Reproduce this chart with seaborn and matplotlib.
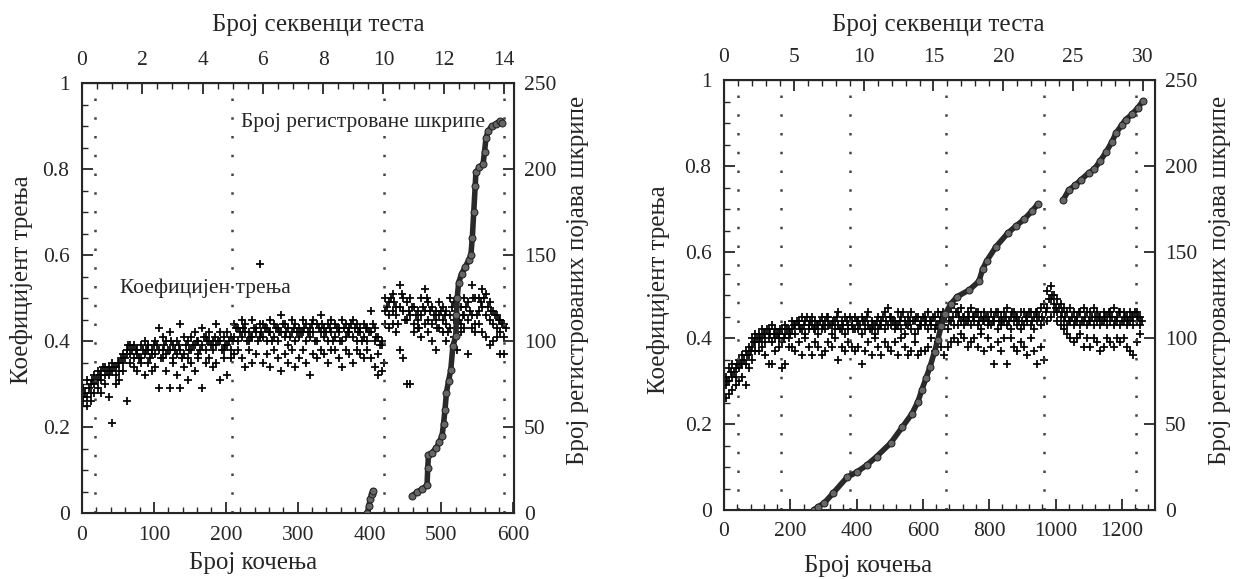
import numpy as np
import pandas as pd
import matplotlib
matplotlib.use("Agg")
import matplotlib.pyplot as plt
from matplotlib.ticker import MultipleLocator
import seaborn as sns

sns.set_style("ticks")
plt.rcParams['font.family'] = ['Liberation Serif', 'DejaVu Serif']

# ---------------- left panel data ----------------
brake_L = np.arange(2, 590, 5)  # braking number (bins of 5)
fric_L_hi = [0.29, 0.31, 0.30, 0.32, 0.33, 0.33, 0.34, 0.34, 0.35, 0.34,
             0.35, 0.37, 0.38, 0.39, 0.39, 0.38, 0.39, 0.40, 0.39, 0.38,
             0.40, 0.43, 0.41, 0.40, 0.42, 0.39, 0.40, 0.44, 0.41, 0.40,
             0.41, 0.42, 0.40, 0.43, 0.41, 0.42, 0.40, 0.44, 0.42, 0.41,
             0.42, 0.41, 0.44, 0.43, 0.45, 0.44, 0.42, 0.45, 0.43, 0.44,
             0.44, 0.43, 0.45, 0.44, 0.43, 0.46, 0.44, 0.43, 0.45, 0.44,
             0.43, 0.45, 0.44, 0.43, 0.45, 0.44, 0.46, 0.43, 0.44, 0.45,
             0.44, 0.43, 0.45, 0.44, 0.43, 0.45, 0.44, 0.43, 0.44, 0.43,
             0.47, 0.43, 0.41, 0.39, 0.50, 0.49, 0.51, 0.48, 0.53, 0.50,
             0.49, 0.50, 0.48, 0.47, 0.50, 0.52, 0.49, 0.48, 0.47, 0.49,
             0.48, 0.47, 0.50, 0.49, 0.46, 0.48, 0.50, 0.49, 0.53, 0.50,
             0.50, 0.52, 0.51, 0.49, 0.47, 0.46, 0.45, 0.44]
fric_L_mid = [0.27, 0.27, 0.28, 0.30, 0.31, 0.31, 0.32, 0.32, 0.33, 0.32,
              0.33, 0.35, 0.37, 0.37, 0.36, 0.37, 0.36, 0.37, 0.38, 0.37,
              0.37, 0.38, 0.38, 0.37, 0.38, 0.36, 0.37, 0.38, 0.37, 0.36,
              0.38, 0.39, 0.37, 0.39, 0.38, 0.40, 0.38, 0.39, 0.40, 0.38,
              0.39, 0.38, 0.41, 0.40, 0.41, 0.42, 0.40, 0.41, 0.42, 0.41,
              0.41, 0.40, 0.42, 0.41, 0.40, 0.42, 0.41, 0.39, 0.42, 0.40,
              0.41, 0.42, 0.40, 0.41, 0.42, 0.40, 0.42, 0.41, 0.40, 0.42,
              0.41, 0.42, 0.40, 0.41, 0.42, 0.41, 0.40, 0.42, 0.41, 0.40,
              0.42, 0.40, 0.37, 0.33, 0.47, 0.46, 0.47, 0.46, 0.48, 0.47,
              0.45, 0.46, 0.44, 0.45, 0.46, 0.47, 0.45, 0.44, 0.45, 0.46,
              0.45, 0.44, 0.46, 0.45, 0.43, 0.44, 0.46, 0.45, 0.46, 0.44,
              0.47, 0.48, 0.46, 0.45, 0.44, 0.43, 0.42, 0.41]
fric_L_lo = [0.26, 0.25, 0.26, 0.28, 0.29, 0.28, 0.30, 0.27, 0.21, 0.30,
             0.31, 0.33, 0.26, 0.35, 0.34, 0.33, 0.35, 0.32, 0.35, 0.33,
             0.34, 0.29, 0.36, 0.33, 0.29, 0.35, 0.32, 0.29, 0.34, 0.31,
             0.35, 0.33, 0.36, 0.29, 0.35, 0.36, 0.34, 0.35, 0.31, 0.36,
             0.32, 0.36, 0.37, 0.38, 0.36, 0.34, 0.38, 0.35, 0.37, 0.58,
             0.35, 0.37, 0.34, 0.38, 0.36, 0.33, 0.37, 0.35, 0.38, 0.34,
             0.36, 0.38, 0.35, 0.32, 0.37, 0.36, 0.38, 0.37, 0.35, 0.38,
             0.38, 0.36, 0.34, 0.38, 0.37, 0.35, 0.38, 0.37, 0.36, 0.38,
             0.36, 0.34, 0.32, 0.40, 0.44, 0.43, 0.44, 0.42, 0.38, 0.36,
             0.30, 0.30, 0.42, 0.43, 0.41, 0.44, 0.42, 0.40, 0.38, 0.43,
             0.42, 0.40, 0.43, 0.41, 0.38, 0.42, 0.43, 0.37, 0.43, 0.42,
             0.44, 0.42, 0.41, 0.39, 0.40, 0.41, 0.37, 0.37]
fric_L_alt = [0.28, 0.29, 0.31, 0.31, 0.32, 0.34, 0.33, 0.33, 0.34, 0.35,
              0.36, 0.36, 0.39, 0.38, 0.38, 0.36, 0.38, 0.38, 0.36, 0.39,
              0.39, 0.36, 0.39, 0.38, 0.40, 0.38, 0.39, 0.36, 0.39, 0.38,
              0.39, 0.40, 0.38, 0.41, 0.40, 0.39, 0.41, 0.40, 0.38, 0.39,
              0.40, 0.40, 0.43, 0.42, 0.43, 0.40, 0.41, 0.43, 0.40, 0.42,
              0.43, 0.42, 0.40, 0.43, 0.42, 0.44, 0.42, 0.41, 0.43, 0.42,
              0.42, 0.43, 0.42, 0.44, 0.40, 0.43, 0.44, 0.42, 0.43, 0.40,
              0.43, 0.40, 0.43, 0.42, 0.44, 0.43, 0.42, 0.40, 0.43, 0.42,
              0.44, 0.41, 0.39, 0.35, 0.48, 0.50, 0.49, 0.44, 0.51, 0.45,
              0.47, 0.48, 0.46, 0.43, 0.48, 0.50, 0.47, 0.46, 0.43, 0.47,
              0.46, 0.42, 0.48, 0.47, 0.45, 0.46, 0.48, 0.47, 0.50, 0.46,
              0.49, 0.50, 0.48, 0.47, 0.46, 0.45, 0.44, 0.43]

squeal_L_seg = [0] * 5 + [1] * 37
squeal_L_x = [397, 399, 401, 403, 405,
              459, 466, 473, 480, 481, 482, 487, 493, 497, 501, 503, 505, 507,
              510, 513, 516, 520, 521, 522, 524, 528, 533, 538, 541, 543, 545,
              547, 548, 553, 558, 560, 562, 565, 570, 576, 581, 584]
squeal_L_y = [0, 4, 8, 11, 13,
              10, 12, 14, 16, 26, 34, 35, 38, 41, 45, 52, 60, 70,
              77, 83, 97, 103, 115, 125, 134, 139, 143, 147, 150, 160, 175,
              190, 198, 201, 203, 210, 218, 222, 225, 226, 228, 227]
dots_L = [18, 208, 420, 587]

# ---------------- right panel data ----------------
brake_R = np.arange(5, 1265, 10)  # braking number (bins of 10)
fric_R_hi = [0.31, 0.33, 0.34, 0.33, 0.35, 0.36, 0.37, 0.38, 0.40, 0.41,
             0.41, 0.42, 0.41, 0.42, 0.43, 0.42, 0.41, 0.42, 0.43, 0.42,
             0.44, 0.43, 0.44, 0.45, 0.44, 0.43, 0.45, 0.44, 0.43, 0.45,
             0.44, 0.45, 0.43, 0.44, 0.46, 0.44, 0.45, 0.43, 0.44, 0.45,
             0.44, 0.45, 0.44, 0.46, 0.44, 0.43, 0.45, 0.44, 0.46, 0.47,
             0.45, 0.44, 0.46, 0.45, 0.44, 0.45, 0.46, 0.44, 0.45, 0.44,
             0.45, 0.46, 0.44, 0.45, 0.46, 0.45, 0.44, 0.46, 0.47, 0.48,
             0.46, 0.47, 0.45, 0.46, 0.47, 0.45, 0.46, 0.45, 0.46, 0.45,
             0.46, 0.45, 0.46, 0.45, 0.46, 0.47, 0.45, 0.46, 0.45, 0.46,
             0.46, 0.45, 0.46, 0.45, 0.46, 0.47, 0.48, 0.51, 0.52, 0.50,
             0.49, 0.48, 0.47, 0.46, 0.47, 0.46, 0.45, 0.46, 0.47, 0.46,
             0.46, 0.47, 0.46, 0.45, 0.46, 0.45, 0.46, 0.47, 0.45, 0.46,
             0.46, 0.45, 0.46, 0.45, 0.46, 0.45]
fric_R_mid = [0.29, 0.30, 0.31, 0.31, 0.33, 0.34, 0.34, 0.36, 0.38, 0.39,
              0.39, 0.40, 0.39, 0.40, 0.39, 0.40, 0.40, 0.39, 0.41, 0.40,
              0.42, 0.41, 0.43, 0.42, 0.41, 0.42, 0.43, 0.42, 0.41, 0.42,
              0.42, 0.43, 0.41, 0.42, 0.43, 0.42, 0.41, 0.42, 0.43, 0.42,
              0.42, 0.41, 0.42, 0.43, 0.42, 0.41, 0.42, 0.43, 0.42, 0.43,
              0.43, 0.42, 0.43, 0.42, 0.41, 0.43, 0.42, 0.41, 0.42, 0.43,
              0.43, 0.42, 0.43, 0.42, 0.43, 0.42, 0.43, 0.42, 0.44, 0.43,
              0.43, 0.44, 0.43, 0.44, 0.43, 0.44, 0.43, 0.42, 0.44, 0.43,
              0.43, 0.44, 0.42, 0.43, 0.44, 0.43, 0.42, 0.44, 0.43, 0.42,
              0.43, 0.44, 0.43, 0.42, 0.44, 0.43, 0.44, 0.47, 0.49, 0.48,
              0.46, 0.45, 0.44, 0.43, 0.44, 0.43, 0.44, 0.43, 0.44, 0.43,
              0.44, 0.43, 0.44, 0.43, 0.44, 0.43, 0.44, 0.43, 0.44, 0.43,
              0.44, 0.43, 0.44, 0.43, 0.44, 0.43]
fric_R_lo = [0.26, 0.27, 0.28, 0.29, 0.30, 0.31, 0.29, 0.33, 0.35, 0.37,
             0.37, 0.38, 0.36, 0.34, 0.34, 0.37, 0.38, 0.33, 0.34, 0.38,
             0.38, 0.37, 0.39, 0.36, 0.40, 0.38, 0.36, 0.39, 0.38, 0.36,
             0.37, 0.39, 0.38, 0.40, 0.35, 0.38, 0.37, 0.39, 0.38, 0.37,
             0.38, 0.34, 0.37, 0.39, 0.36, 0.40, 0.38, 0.36, 0.39, 0.38,
             0.37, 0.39, 0.36, 0.40, 0.38, 0.36, 0.37, 0.39, 0.36, 0.37,
             0.37, 0.38, 0.40, 0.37, 0.39, 0.38, 0.36, 0.38, 0.39, 0.40,
             0.39, 0.41, 0.40, 0.38, 0.39, 0.40, 0.38, 0.41, 0.37, 0.40,
             0.38, 0.34, 0.39, 0.37, 0.40, 0.34, 0.40, 0.38, 0.37, 0.39,
             0.38, 0.36, 0.40, 0.37, 0.34, 0.38, 0.35, 0.44, 0.45, 0.46,
             0.44, 0.43, 0.42, 0.41, 0.40, 0.39, 0.40, 0.41, 0.38, 0.40,
             0.38, 0.40, 0.39, 0.37, 0.38, 0.40, 0.39, 0.38, 0.40, 0.39,
             0.40, 0.38, 0.37, 0.36, 0.39, 0.41]
fric_R_alt = [0.30, 0.32, 0.32, 0.34, 0.34, 0.35, 0.36, 0.37, 0.39, 0.40,
              0.40, 0.41, 0.42, 0.41, 0.41, 0.41, 0.42, 0.40, 0.42, 0.41,
              0.43, 0.44, 0.42, 0.43, 0.45, 0.44, 0.42, 0.43, 0.44, 0.43,
              0.45, 0.43, 0.44, 0.45, 0.42, 0.43, 0.44, 0.45, 0.42, 0.44,
              0.43, 0.44, 0.45, 0.42, 0.43, 0.44, 0.43, 0.45, 0.44, 0.45,
              0.44, 0.43, 0.44, 0.46, 0.43, 0.44, 0.44, 0.45, 0.43, 0.45,
              0.44, 0.44, 0.45, 0.43, 0.44, 0.46, 0.45, 0.44, 0.45, 0.46,
              0.45, 0.45, 0.44, 0.45, 0.45, 0.46, 0.44, 0.44, 0.45, 0.44,
              0.44, 0.46, 0.44, 0.44, 0.45, 0.44, 0.46, 0.45, 0.44, 0.44,
              0.45, 0.46, 0.44, 0.46, 0.45, 0.45, 0.46, 0.49, 0.50, 0.47,
              0.47, 0.46, 0.45, 0.44, 0.45, 0.44, 0.46, 0.44, 0.45, 0.44,
              0.45, 0.45, 0.45, 0.44, 0.45, 0.46, 0.45, 0.44, 0.46, 0.44,
              0.45, 0.44, 0.45, 0.46, 0.45, 0.44]

squeal_R_seg = [0] * 31 + [1] * 15
squeal_R_x = [271, 285, 302, 330, 371, 400, 430, 460, 503, 537, 567, 585, 597,
              610, 621, 635, 645, 655, 667, 685, 703, 740, 769, 780, 793, 820,
              856, 880, 905, 930, 947,
              1022, 1040, 1060, 1077, 1100, 1116, 1135, 1152, 1170, 1182, 1200,
              1212, 1230, 1249, 1264]
squeal_R_y = [0, 2, 4, 10, 19, 22, 26, 31, 39, 48, 56, 63, 70,
              77, 83, 92, 99, 107, 114, 120, 124, 128, 133, 140, 145, 153,
              161, 165, 169, 174, 178,
              180, 186, 189, 192, 196, 198, 203, 208, 214, 219, 224,
              227, 230, 234, 238]
dots_R = [42, 172, 380, 671, 965, 1244]


def panel(rect, brake, step, hi, mid, lo, alt, sq_seg, sq_x, sq_y, dots,
          xmax, seqmax, xmaj, xmin, smaj, smin):
    ax = fig.add_axes(rect)
    fric = pd.DataFrame({'brake': np.concatenate([brake, brake, brake,
                                                  brake + step / 2]),
                         'mu': np.concatenate([hi, mid, lo, alt])})
    for d in dots:
        ax.axvline(d, color='#444444', lw=1.8, ls=(0, (1, 6.5)))
    sns.scatterplot(data=fric, x='brake', y='mu', marker='+', s=40,
                    color='black', linewidth=1.25, ax=ax, legend=False)
    ax.set_xlim(0, xmax)
    ax.set_ylim(0, 1)
    ax.set_xlabel('')
    ax.set_ylabel('')
    ax.set_yticks([0, 0.2, 0.4, 0.6, 0.8, 1])
    ax.set_yticklabels(['0', '0.2', '0.4', '0.6', '0.8', '1'])
    ax.yaxis.set_minor_locator(MultipleLocator(0.05))
    ax.xaxis.set_major_locator(MultipleLocator(xmaj))
    ax.xaxis.set_minor_locator(MultipleLocator(xmin))
    ax.tick_params(which='major', direction='in', length=8, width=1.3,
                   labelsize=15.5, pad=9)
    ax.tick_params(which='minor', direction='in', length=4, width=1.0)
    for s in ax.spines.values():
        s.set_linewidth(1.5)
        s.set_visible(True)

    ax2 = ax.twinx()
    sq = pd.DataFrame({'seg': sq_seg, 'x': sq_x, 'n': sq_y})
    sns.lineplot(data=sq, x='x', y='n', units='seg', estimator=None,
                 color='#2a2a2a', lw=4, marker='o', markersize=5,
                 markerfacecolor='#666666', markeredgecolor='#222222',
                 sort=False, ax=ax2, legend=False)
    ax2.set_xlim(0, xmax)
    ax2.set_ylim(0, 250)
    ax2.set_ylabel('')
    ax2.set_yticks([0, 50, 100, 150, 200, 250])
    ax2.tick_params(direction='in', length=8, width=1.3, labelsize=15.5, pad=7)

    k = seqmax / xmax
    sec = ax.secondary_xaxis('top', functions=(lambda v: v * k, lambda v: v / k))
    sec.xaxis.set_major_locator(MultipleLocator(smaj))
    sec.xaxis.set_minor_locator(MultipleLocator(smin))
    sec.tick_params(which='major', direction='in', length=8, width=1.3,
                    labelsize=15.5, pad=9)
    sec.tick_params(which='minor', direction='in', length=4, width=1.0)
    return ax


fig = plt.figure(figsize=(12.33, 5.79), dpi=100)

W, H = 1233, 579
axL = panel([82 / W, 1 - 513 / H, 432 / W, 430 / H], brake_L, 5,
            fric_L_hi, fric_L_mid, fric_L_lo, fric_L_alt,
            squeal_L_seg, squeal_L_x, squeal_L_y, dots_L,
            601, 14.33, 100, 20, 2, 0.5)
axR = panel([724 / W, 1 - 510 / H, 431 / W, 430 / H], brake_R, 10,
            fric_R_hi, fric_R_mid, fric_R_lo, fric_R_alt,
            squeal_R_seg, squeal_R_x, squeal_R_y, dots_R,
            1300, 30.86, 200, 40, 5, 1)

axL.text(221, 0.907, 'Број регистроване шкрипе', fontsize=15.5,
         ha='left', va='center')
axL.text(53, 0.523, 'Коефицијен трења', fontsize=15.5, ha='left', va='center')

lab = 18
fig.text(318 / W, 1 - 25 / H, 'Број секвенци теста', fontsize=lab,
         ha='center', va='center')
fig.text(938 / W, 1 - 25 / H, 'Број секвенци теста', fontsize=lab,
         ha='center', va='center')
fig.text(253 / W, 1 - 563 / H, 'Број кочења', fontsize=lab,
         ha='center', va='center')
fig.text(868 / W, 1 - 566 / H, 'Број кочења', fontsize=lab,
         ha='center', va='center')
fig.text(22 / W, 1 - 280 / H, 'Коефицијент трења', fontsize=lab,
         rotation=90, ha='center', va='center')
fig.text(659 / W, 1 - 290 / H, 'Коефицијент трења', fontsize=lab,
         rotation=90, ha='center', va='center')
fig.text(578 / W, 1 - 280 / H, 'Број регистрованих појава шкрипе',
         fontsize=lab, rotation=90, ha='center', va='center')
fig.text(1220 / W, 1 - 280 / H, 'Број регистрованих појава шкрипе',
         fontsize=lab, rotation=90, ha='center', va='center')

fig.savefig('out.png', dpi=100)
